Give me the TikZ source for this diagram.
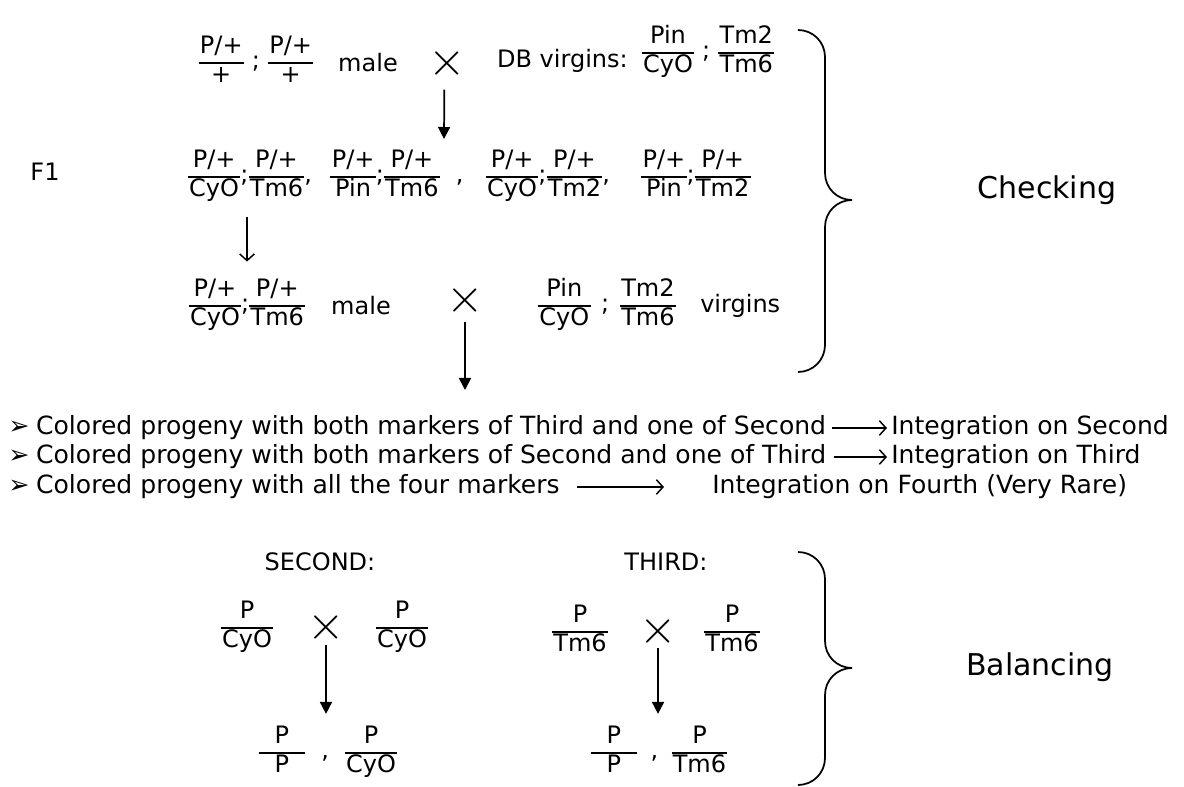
\documentclass[tikz,border=0pt]{standalone}
\usepackage{fontspec}
\setmainfont{DejaVu Sans}
\usetikzlibrary{arrows.meta,calc}
\newcommand\fr[2]{\begin{tabular}{@{\hspace{1pt}}c@{\hspace{1pt}}}#1\\\hline #2\end{tabular}}
\setlength\arrayrulewidth{1.2pt}
\renewcommand\arraystretch{0.95}
\newcommand\bulmark{{\fontsize{19pt}{19pt}\selectfont ➢}\hspace{5pt}}
\newcommand\bigx{\scalebox{1.45}{$\times$}}
\tikzset{
  txt/.style={font=\fontsize{18pt}{21.6pt}\selectfont, inner sep=0pt},
  bul/.style={font=\fontsize{18.8pt}{22pt}\selectfont, inner sep=0pt, anchor=west},
  big/.style={font=\fontsize{22.5pt}{27pt}\selectfont, inner sep=0pt},
  crs/.style={font=\fontsize{24.88pt}{26pt}\selectfont, inner sep=0pt},
  arr/.style={line width=1.3pt, -{Triangle[length=9pt,width=9pt]}},
  barb/.style={line width=1.1pt, -{Straight Barb[length=5pt,width=11pt]}},
  brc/.style={line width=1.3pt},
}
\begin{document}
\begin{tikzpicture}[x=0.75pt,y=-0.75pt]
\useasboundingbox (0,0) rectangle (1184,787);
% ---- row 1
\node[txt] (g1) at (256,63) {\fr{P/+}{+}\hspace{6pt};\hspace{6pt}\fr{P/+}{+}};
\node[txt] (male1) at (368,63) {male};
\node[crs] (x1) at (447,63) {\bigx};
\node[txt,anchor=east] (db) at (628,61) {DB virgins:};
\node[txt] (g2) at (708,53) {\fr{Pin}{CyO}\hspace{6pt};\hspace{6pt}\fr{Tm2}{Tm6}};
% ---- row 2
\node[txt] (f1) at (45,172) {F1};
\node[txt] (ga) at (250,177) {\fr{P/+}{CyO};\fr{P/+}{Tm6},};
\node[txt] (gb) at (397,177) {\fr{P/+}{Pin};\fr{P/+}{Tm6}\hspace{12pt},};
\node[txt] (gc) at (548,177) {\fr{P/+}{CyO};\fr{P/+}{Tm2},};
\node[txt] (gd) at (696,177) {\fr{P/+}{Pin};\fr{P/+}{Tm2}};
% ---- row 3
\node[txt] (ge) at (247,306) {\fr{P/+}{CyO};\fr{P/+}{Tm6}};
\node[txt] (male2) at (361,306) {male};
\node[crs] (x2) at (465,300) {\bigx};
\node[txt] (gf) at (607,306) {\fr{Pin}{CyO}\hspace{8pt};\hspace{8pt}\fr{Tm2}{Tm6}};
\node[txt,anchor=west] (virg) at (700,306) {virgins};
% arrows top part
\coordinate (a1e) at (444,139);
\draw[arr] ([xshift=-2pt,yshift=-20pt]x1.center) -- (a1e);
\coordinate (ax2) at (247,0);
\draw[barb, shorten <=9pt, shorten >=12pt] (ga.south -| ax2) -- (ge.north -| ax2);
\coordinate (a3e) at (465,390);
\draw[arr] ([yshift=-16.5pt]x2.center) -- (a3e);
% brace checking
\draw[brc] (798,30) .. controls (813,30) and (825,42) .. (825,57) -- (825,173)
  .. controls (825,188) and (837,200) .. (852,200)
  .. controls (837,200) and (825,212) .. (825,227) -- (825,345)
  .. controls (825,360) and (813,372) .. (798,372);
\node[big] (chk) at (1047,190) {Checking};
% ---- bullet lines
\node[bul] (t1) at (8,428) {\bulmark Colored progeny with both markers of Third and one of Second};
\node[bul] (t2) at (8,457) {\bulmark Colored progeny with both markers of Second and one of Third};
\node[bul] (t3) at (8,487) {\bulmark Colored progeny with all the four markers};
\node[bul] (i1) at (891,428) {Integration on Second};
\node[bul] (i2) at (891,457) {Integration on Third};
\node[bul] (i3) at (712,487) {Integration on Fourth (Very Rare)};
\draw[barb] ([xshift=4pt]t1.east) -- ([xshift=-3pt]i1.west);
\draw[barb] ([xshift=6pt]t2.east) -- ([xshift=-3pt]i2.west);
\draw[barb] ([xshift=13pt]t3.east) -- ([xshift=-36pt]i3.west);
% ---- balancing: second
\node[txt] (sec) at (320,562) {SECOND:};
\node[txt] (s1) at (247,628) {\fr{P}{CyO}};
\node[crs] (x3) at (326,627) {\bigx};
\node[txt] (s2) at (402,628) {\fr{P}{CyO}};
\node[txt] (s3) at (328,753) {\fr{\makebox[33pt]{P}}{P}\hspace{12pt},\hspace{12pt}\fr{P}{CyO}};
\draw[arr, shorten >=8pt] ([yshift=-13.5pt]x3.center) -- (x3.center |- s3.north);
% ---- balancing: third
\node[txt] (thi) at (666,562) {THIRD:};
\node[txt] (h1) at (580,632) {\fr{P}{Tm6}};
\node[crs] (x4) at (658,631) {\bigx};
\node[txt] (h2) at (732,632) {\fr{P}{Tm6}};
\node[txt] (h3) at (659,753) {\fr{\makebox[33pt]{P}}{P}\hspace{10pt},\hspace{10pt}\fr{P}{Tm6}};
\draw[arr, shorten >=8pt] ([yshift=-13pt]x4.center) -- (x4.center |- h3.north);
% brace balancing
\draw[brc] (798,552) .. controls (813,552) and (825,564) .. (825,579) -- (825,641)
  .. controls (825,656) and (837,668) .. (852,668)
  .. controls (837,668) and (825,680) .. (825,695) -- (825,758)
  .. controls (825,773) and (813,785) .. (798,785);
\node[big] (bal) at (1040,667) {Balancing};
\end{tikzpicture}
\end{document}
